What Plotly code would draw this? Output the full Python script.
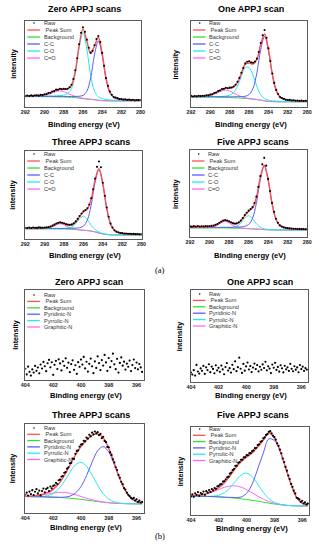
import numpy as np
import plotly.graph_objects as go

W, H = 319, 550

# ---------------- data ----------------
c_energy = np.round(np.linspace(292.0, 280.0, 31), 1)
c_raw_energy = np.round(np.linspace(292.0, 280.0, 61), 1)
n_energy = np.round(np.linspace(404.0, 395.6, 22), 1)
n_raw_energy = np.round(np.linspace(404.0, 395.6, 85), 1)
c_ticks = [292, 290, 288, 286, 284, 282, 280]
n_ticks = [404, 402, 400, 398, 396]

c_titles = ["Zero APPJ scans", "One APPJ scan", "Three APPJ scans", "Five APPJ scans"]
n_titles = ["Zero APPJ scan", "One APPJ scan", "Three APPJ scans", "Five APPJ scans"]
c_legend = ["Raw", " Peak Sum", "Background", "C-C", "C-O", "C=O"]
n_legend = ["Raw", " Peak Sum", "Background", "Pyridinic-N", "Pyrrolic-N", "Graphitic-N"]

# C1s, zero scans
zero_c_raw = [12.6, 13.4, 12.8, 13.5, 12.9, 13.7, 13.6, 13.2, 14.1, 13.8,
              14.8, 15.0, 16.3, 16.5, 18.1, 18.5, 20.2, 20.1, 21.3, 20.6,
              21.2, 20.9, 21.3, 22.9, 25.9, 32.6, 42.8, 56.6, 72.9, 86.3,
              92.7, 87.4, 78.3, 68.9, 63.2, 65.3, 71.8, 79.0, 82.6, 75.6,
              62.9, 47.9, 33.6, 24.6, 17.9, 14.3, 11.5, 11.0, 10.3, 9.2,
              9.3, 8.6, 8.9, 8.3, 8.6, 8.1, 8.4, 7.9, 8.2, 8.0, 8.2]
zero_c_sum = [12.9, 13.0, 13.1, 13.3, 13.6, 14.4, 15.9, 17.6, 19.7, 20.8, 20.8, 20.7, 25.2, 41.7, 71.4, 90.9,
              76.9, 62.1, 71.0, 81.1, 62.0, 33.9, 17.6, 11.7, 10.0, 9.1, 8.6, 8.4, 8.2, 8.1, 8.0]
zero_c_bg = [12.0, 12.0, 12.0, 12.0, 12.0, 12.0, 12.0, 11.9, 11.8, 11.7, 11.6, 11.4, 11.2, 10.9, 10.4, 9.8,
             9.2, 8.8, 8.4, 7.9, 7.4, 7.2, 7.1, 7.0, 7.0, 7.0, 7.0, 7.0, 7.0, 7.0, 7.0]
zero_c_cc = [12.4, 12.4, 12.4, 12.4, 12.4, 12.4, 12.4, 12.3, 12.3, 12.3, 12.3, 12.2, 12.2, 12.3, 12.5, 13.5,
             18.4, 33.9, 60.6, 76.9, 59.6, 32.3, 16.3, 10.7, 9.1, 8.4, 8.0, 7.8, 7.7, 7.6, 7.5]
zero_c_co = [12.4, 12.4, 12.4, 12.5, 12.5, 12.6, 12.8, 12.8, 13.0, 13.2, 13.9, 15.5, 21.5, 38.9, 68.6, 86.8,
             67.4, 36.8, 18.7, 12.0, 9.7, 8.7, 8.3, 7.9, 7.8, 7.6, 7.5, 7.5, 7.4, 7.4, 7.4]
zero_c_cdo = [12.1, 12.2, 12.3, 12.4, 12.7, 13.4, 14.7, 16.3, 18.0, 18.7, 17.8, 15.8, 13.9, 12.3, 11.1, 10.2,
              9.5, 9.0, 8.5, 8.0, 7.5, 7.3, 7.2, 7.1, 7.1, 7.1, 7.1, 7.1, 7.1, 7.1, 7.1]

# C1s, one scan
one_c_raw = [12.9, 12.2, 12.8, 12.4, 13.0, 12.6, 13.1, 12.9, 13.7, 13.5,
             14.6, 14.8, 16.2, 16.8, 18.5, 19.2, 20.8, 21.1, 22.4, 21.8,
             22.5, 22.6, 23.9, 25.8, 29.3, 33.9, 39.8, 45.3, 50.7, 52.6,
             53.2, 51.9, 51.5, 52.8, 56.2, 64.0, 74.3, 83.4, 89.5, 80.4,
             68.2, 53.4, 38.9, 28.0, 19.9, 15.2, 11.5, 10.5, 9.5, 8.5,
             8.2, 8.3, 7.6, 7.9, 7.3, 7.6, 7.1, 7.4, 6.9, 7.2, 7.1]
one_c_sum = [12.4, 12.5, 12.6, 12.8, 13.3, 14.2, 15.8, 18.1, 20.4, 21.9, 22.0, 23.3, 28.7, 39.0, 49.6, 51.2,
             49.9, 55.3, 72.9, 84.9, 66.9, 38.3, 19.5, 11.7, 9.2, 8.3, 7.8, 7.5, 7.2, 7.1, 7.0]
one_c_bg = [11.5, 11.5, 11.5, 11.5, 11.5, 11.5, 11.5, 11.4, 11.3, 11.2, 11.0, 10.8, 10.6, 10.3, 9.9, 9.5,
            9.1, 8.6, 7.9, 7.1, 6.5, 6.2, 6.1, 6.0, 6.0, 6.0, 6.0, 6.0, 6.0, 6.0, 6.0]
one_c_cc = [12.0, 12.0, 12.0, 12.0, 12.0, 12.0, 12.0, 11.9, 11.9, 11.9, 11.8, 11.9, 12.0, 12.0, 12.5, 14.5,
            21.6, 39.6, 66.7, 82.1, 65.3, 37.2, 18.6, 11.0, 8.6, 7.7, 7.4, 7.1, 6.8, 6.7, 6.6]
one_c_co = [11.8, 11.8, 11.8, 11.8, 11.9, 12.0, 12.1, 12.2, 12.3, 12.7, 13.7, 16.8, 24.1, 35.6, 46.1, 45.7,
            37.1, 24.1, 13.9, 9.8, 8.0, 7.2, 6.9, 6.6, 6.5, 6.4, 6.3, 6.3, 6.3, 6.3, 6.3]
one_c_cdo = [11.7, 11.7, 11.8, 12.0, 12.4, 13.2, 14.7, 16.8, 18.8, 19.7, 18.5, 16.2, 13.8, 12.0, 10.8, 10.0,
             9.4, 8.8, 8.1, 7.2, 6.6, 6.3, 6.2, 6.1, 6.1, 6.1, 6.1, 6.1, 6.1, 6.1, 6.1]

# C1s, three scans
three_c_raw = [12.8, 12.5, 13.0, 12.4, 13.1, 12.7, 12.6, 13.2, 12.9, 12.7,
               13.1, 13.3, 13.7, 14.2, 15.2, 16.3, 17.6, 18.5, 18.9, 18.4,
               17.9, 16.9, 16.4, 16.1, 16.6, 17.9, 20.0, 22.9, 26.2, 29.0,
               31.5, 33.0, 35.0, 39.2, 46.3, 56.4, 68.6, 82.0, 88.0, 81.5,
               63.9, 49.2, 35.8, 25.3, 17.5, 13.1, 10.0, 8.4, 7.6, 6.9,
               6.7, 6.2, 6.3, 5.9, 6.0, 5.6, 5.8, 5.5, 5.7, 5.3, 5.5]
three_c_sum = [12.2, 12.2, 12.2, 12.3, 12.3, 12.5, 13.2, 14.7, 17.1, 18.4, 17.4, 15.8, 16.0, 19.4, 25.5, 30.8,
               34.1, 45.4, 67.2, 80.0, 62.8, 35.2, 17.1, 9.7, 7.3, 6.4, 6.0, 5.7, 5.5, 5.4, 5.3]
three_c_bg = [11.5, 11.5, 11.5, 11.5, 11.5, 11.5, 11.5, 11.5, 11.5, 11.4, 11.3, 11.2, 11.0, 10.7, 10.3, 9.9,
              9.5, 9.0, 8.0, 6.8, 5.7, 5.0, 4.7, 4.6, 4.5, 4.5, 4.5, 4.5, 4.5, 4.5, 4.5]
three_c_cc = [12.0, 12.0, 12.0, 12.0, 12.0, 12.0, 12.0, 12.0, 12.1, 12.1, 12.1, 12.2, 12.3, 12.4, 12.8, 14.7,
              21.5, 38.7, 64.4, 78.8, 62.1, 34.7, 16.7, 9.4, 7.0, 6.2, 5.8, 5.5, 5.3, 5.2, 5.1]
three_c_co = [11.6, 11.6, 11.6, 11.6, 11.6, 11.6, 11.7, 11.7, 11.8, 11.8, 11.9, 12.3, 13.7, 17.3, 22.8, 25.9,
              22.0, 15.6, 10.7, 7.9, 6.3, 5.4, 5.0, 4.8, 4.7, 4.6, 4.6, 4.6, 4.6, 4.6, 4.6]
three_c_cdo = [11.6, 11.6, 11.6, 11.6, 11.7, 11.9, 12.5, 14.0, 16.2, 17.4, 16.0, 13.7, 12.0, 11.1, 10.5, 10.0,
               9.6, 9.1, 8.1, 6.9, 5.8, 5.1, 4.8, 4.7, 4.6, 4.6, 4.6, 4.6, 4.6, 4.6, 4.6]

# C1s, five scans
five_c_raw = [12.3, 11.9, 12.5, 12.1, 12.6, 12.0, 12.4, 12.2, 12.5, 12.3,
              12.6, 12.8, 13.3, 14.0, 15.0, 16.4, 17.8, 18.9, 19.5, 18.9,
              18.1, 16.9, 15.9, 15.6, 15.8, 17.0, 19.0, 21.8, 25.2, 27.9,
              30.3, 32.2, 34.3, 39.1, 46.4, 57.6, 70.0, 83.5, 91.0, 82.0,
              66.8, 52.9, 39.2, 28.9, 21.0, 16.3, 13.4, 12.1, 11.1, 10.6,
              10.2, 9.9, 9.8, 9.5, 9.4, 9.2, 9.3, 9.0, 9.1, 8.9, 9.1]
five_c_sum = [11.2, 11.2, 11.2, 11.3, 11.4, 11.6, 12.4, 14.3, 17.3, 18.9, 17.5, 15.3, 15.2, 18.3, 24.4, 29.6,
              33.4, 45.5, 68.6, 82.6, 66.0, 38.7, 20.6, 13.2, 10.9, 10.0, 9.5, 9.2, 9.0, 8.9, 8.8]
five_c_bg = [10.5, 10.5, 10.5, 10.5, 10.5, 10.5, 10.5, 10.5, 10.5, 10.4, 10.3, 10.2, 10.1, 9.9, 9.7, 9.5,
             9.3, 9.1, 8.8, 8.5, 8.2, 8.1, 8.0, 8.0, 8.0, 8.0, 8.0, 8.0, 8.0, 8.0, 8.0]
five_c_cc = [11.0, 11.0, 11.0, 11.0, 11.0, 11.0, 11.0, 11.0, 11.1, 11.1, 11.1, 11.2, 11.4, 11.6, 12.3, 14.4,
             21.5, 39.2, 66.0, 81.5, 65.4, 38.2, 20.2, 12.9, 10.6, 9.7, 9.3, 9.0, 8.8, 8.7, 8.6]
five_c_co = [10.6, 10.6, 10.6, 10.6, 10.6, 10.6, 10.7, 10.7, 10.8, 10.8, 10.8, 11.2, 12.6, 16.1, 21.5, 24.5,
             21.1, 15.3, 11.3, 9.5, 8.7, 8.5, 8.3, 8.2, 8.2, 8.1, 8.1, 8.1, 8.1, 8.1, 8.1]
five_c_cdo = [10.6, 10.6, 10.6, 10.7, 10.8, 11.0, 11.8, 13.6, 16.4, 17.9, 16.2, 13.3, 11.4, 10.4, 10.0, 9.7,
              9.4, 9.2, 8.9, 8.6, 8.3, 8.2, 8.1, 8.1, 8.1, 8.1, 8.1, 8.1, 8.1, 8.1, 8.1]

# N1s raw, zero and one scan
zero_n_raw = [12.5, 6.2, 14.8, 9.1, 4.9, 11.7, 8.3, 15.6, 10.2, 13.9,
              7.4, 17.2, 12.8, 20.1, 15.3, 9.8, 18.6, 22.4, 14.1, 19.7,
              5.8, 16.9, 21.3, 12.2, 23.0, 18.4, 10.6, 20.8, 15.7, 24.1,
              13.5, 19.2, 8.7, 17.6, 21.9, 11.3, 16.4, 6.9, 19.8, 14.6,
              22.7, 17.1, 25.6, 12.9, 20.3, 9.4, 18.0, 23.8, 15.2, 7.6,
              20.6, 13.4, 26.2, 18.8, 11.0, 22.1, 16.0, 27.9, 19.5, 10.1,
              24.4, 14.3, 21.0, 29.3, 17.4, 12.0, 23.5, 8.2, 19.0, 25.1,
              15.9, 20.4, 11.6, 18.1, 14.7, 21.6, 9.9, 16.6, 22.8, 13.2,
              19.4, 11.9, 17.8, 14.0, 9.0]
one_n_raw = [10.3, 8.1, 12.9, 7.0, 18.6, 11.4, 9.2, 14.8, 12.1, 17.5,
             8.8, 15.9, 13.0, 19.3, 10.7, 16.8, 14.2, 9.5, 18.1, 12.6,
             15.4, 11.1, 17.9, 13.7, 8.4, 16.3, 20.6, 12.4, 15.0, 10.2,
             18.7, 13.9, 22.5, 11.8, 16.1, 26.4, 14.4, 9.9, 19.6, 12.3,
             16.9, 21.2, 13.6, 17.3, 10.8, 15.7, 20.0, 14.1, 18.4, 11.5,
             16.6, 13.3, 19.1, 15.2, 22.0, 12.7, 17.0, 14.6, 9.7, 18.9,
             15.5, 20.8, 13.1, 16.4, 11.2, 18.2, 14.9, 10.4, 17.6, 13.8,
             16.0, 12.0, 19.8, 14.3, 11.7, 17.1, 13.4, 15.8, 10.6, 18.5,
             14.0, 16.7, 12.2, 15.1, 13.5]

# N1s, three scans
three_n_raw = [20.5, 22.8, 19.6, 24.1, 21.3, 25.6, 20.2, 23.9, 26.8, 22.0,
               25.1, 19.8, 24.6, 27.5, 23.3, 26.9, 28.2, 24.7, 29.8, 27.6,
               30.4, 31.2, 33.9, 32.5, 36.8, 37.4, 40.9, 41.6, 45.2, 46.0,
               49.8, 51.3, 55.9, 56.4, 61.2, 60.8, 66.5, 69.7, 70.4, 74.6,
               76.9, 77.3, 81.2, 80.4, 84.8, 83.6, 87.9, 86.2, 90.3, 88.4,
               91.6, 89.5, 90.8, 87.6, 88.9, 84.1, 85.7, 81.0, 79.6, 74.2,
               73.9, 68.1, 65.3, 60.2, 56.8, 51.4, 48.3, 42.7, 39.6, 35.0,
               32.4, 27.9, 26.3, 22.8, 20.5, 18.9, 17.1, 15.8, 16.9, 14.2,
               15.4, 12.6, 13.9, 11.8, 12.5]
three_n_sum = [18.7, 19.0, 19.6, 20.8, 22.8, 26.6, 32.9, 42.1, 53.4, 64.9, 74.7,
               82.0, 87.1, 88.8, 84.4, 72.8, 55.8, 38.6, 25.0, 16.7, 12.6, 11.0]
three_n_bg = [18.5, 18.4, 18.3, 18.2, 18.0, 17.8, 17.5, 17.1, 16.6, 16.0, 15.3,
              14.5, 13.7, 12.9, 12.1, 11.5, 11.0, 10.7, 10.5, 10.4, 10.3, 10.3]
three_n_pyridinic = [18.5, 18.4, 18.3, 18.2, 18.0, 17.8, 17.7, 17.8, 18.9, 22.3, 29.7,
                     41.9, 57.0, 69.9, 74.6, 68.5, 54.3, 38.1, 24.9, 16.7, 12.6, 11.0]
three_n_pyrrolic = [18.5, 18.4, 18.4, 18.7, 19.5, 22.0, 27.1, 35.4, 45.5, 54.0, 57.0,
                    52.5, 42.6, 31.2, 21.7, 15.7, 12.5, 11.2, 10.6, 10.4, 10.3, 10.3]
three_n_graphitic = [18.7, 19.0, 19.5, 20.3, 21.3, 22.4, 23.1, 23.1, 22.2, 20.6, 18.6,
                     16.6, 14.9, 13.5, 12.3, 11.6, 11.0, 10.7, 10.5, 10.4, 10.3, 10.3]

# N1s, five scans
five_n_raw = [21.0, 23.4, 20.6, 24.5, 22.9, 26.1, 21.8, 25.0, 23.7, 26.6,
              22.9, 27.1, 25.4, 28.3, 26.2, 29.4, 28.0, 30.6, 29.8, 32.5,
              33.1, 34.8, 35.2, 37.9, 38.4, 40.6, 42.9, 43.5, 47.0, 48.2,
              50.9, 52.4, 55.8, 56.1, 59.3, 60.2, 62.7, 62.9, 65.4, 65.8,
              68.0, 67.9, 70.3, 70.2, 72.5, 73.4, 75.9, 76.4, 79.5, 80.3,
              83.2, 84.1, 87.0, 88.2, 91.0, 91.9, 94.6, 95.3, 92.8, 90.1,
              88.6, 85.7, 81.4, 78.6, 74.3, 70.1, 64.2, 60.1, 54.6, 50.4,
              44.9, 40.8, 35.3, 32.0, 27.6, 24.5, 19.6, 18.9, 17.8, 15.0,
              16.2, 13.1, 14.4, 12.0, 12.9]
five_n_sum = [21.9, 22.3, 23.1, 24.6, 27.1, 30.9, 36.5, 44.3, 53.2, 60.5, 65.8,
              70.4, 77.3, 84.9, 93.4, 87.3, 73.6, 54.0, 35.0, 19.9, 13.5, 11.4]
five_n_bg = [21.5, 21.4, 21.3, 21.1, 20.9, 20.6, 20.2, 19.7, 19.1, 18.4, 17.6,
             16.7, 15.7, 14.6, 13.5, 12.5, 11.7, 11.0, 10.6, 10.4, 10.3, 10.2]
five_n_pyridinic = [21.5, 21.4, 21.3, 21.1, 20.9, 20.6, 20.2, 20.0, 19.9, 20.4, 24.6,
                    35.1, 52.3, 70.4, 86.5, 84.5, 72.7, 53.8, 35.0, 19.9, 13.5, 11.4]
five_n_pyrrolic = [21.5, 21.4, 21.3, 21.2, 21.4, 22.5, 25.3, 30.8, 38.4, 45.3, 47.6,
                   43.6, 35.0, 25.7, 18.6, 14.4, 12.2, 11.1, 10.6, 10.4, 10.3, 10.2]
five_n_graphitic = [21.9, 22.3, 23.1, 24.5, 26.6, 29.0, 31.4, 32.9, 33.1, 31.6, 28.8,
                    25.1, 21.4, 18.0, 15.3, 13.4, 12.1, 11.1, 10.6, 10.4, 10.3, 10.2]

# ---------------- style / layout ----------------
COL_RAW = "black"
COL_SUM = "#ff4f4f"
COL_BG = "#33dd33"
COL_C1 = "#5c5cff"
COL_C2 = "#22eaf0"
COL_C3 = "#ff66ff"
comp_colors = [COL_SUM, COL_BG, COL_C1, COL_C2, COL_C3]
FONT = "Liberation Sans"

panels = [
    dict(kind="C", title=c_titles[0], raw=zero_c_raw, sum=zero_c_sum, comps=[zero_c_bg, zero_c_cdo, zero_c_co, zero_c_cc],
         frame=(21, 21, 140, 107), tx=82.5, ty=8.5, xty=124, ylx=9, ly0=23, ldy=7, ylab="intensity"),
    dict(kind="C", title=c_titles[1], raw=one_c_raw, sum=one_c_sum, comps=[one_c_bg, one_c_cdo, one_c_co, one_c_cc],
         frame=(192, 21, 312, 107), tx=254, ty=8.5, xty=124, ylx=177, ly0=23, ldy=7, ylab="intensity"),
    dict(kind="C", title=c_titles[2], raw=three_c_raw, sum=three_c_sum, comps=[three_c_bg, three_c_cdo, three_c_co, three_c_cc],
         frame=(21, 151, 141, 239), tx=89, ty=142, xty=255, ylx=8, ly0=154, ldy=7, ylab="intensity"),
    dict(kind="C", title=c_titles[3], raw=five_c_raw, sum=five_c_sum, comps=[five_c_bg, five_c_cdo, five_c_co, five_c_cc],
         frame=(191, 150, 312, 237), tx=256, ty=142, xty=255, ylx=176, ly0=154, ldy=7, ylab="intensity"),
    dict(kind="N0", title=n_titles[0], raw=zero_n_raw,
         frame=(21, 290, 143, 380), tx=87, ty=282, xty=395, ylx=10, ly0=295, ldy=6.4, ylab="Intensity"),
    dict(kind="N0", title=n_titles[1], raw=one_n_raw,
         frame=(192, 290, 313, 382), tx=263, ty=282, xty=395, ylx=180, ly0=294, ldy=6.4, ylab="Intensity"),
    dict(kind="N", title=n_titles[2], raw=three_n_raw, sum=three_n_sum,
         comps=[three_n_bg, three_n_graphitic, three_n_pyrrolic, three_n_pyridinic],
         frame=(21, 424, 143, 513), tx=89, ty=415, xty=527, ylx=8, ly0=428, ldy=6.3, ylab="Intensity"),
    dict(kind="N", title=n_titles[3], raw=five_n_raw, sum=five_n_sum,
         comps=[five_n_bg, five_n_graphitic, five_n_pyrrolic, five_n_pyridinic],
         frame=(192, 427, 314, 515), tx=256, ty=415, xty=528, ylx=181, ly0=429, ldy=6.3, ylab="Intensity"),
]


def fx(px):
    return px / W


def fy(py):
    return 1 - py / H


fig = go.Figure()
shapes, annotations = [], []
layout = {}

for i, p in enumerate(panels):
    n = i + 1
    sfx = "" if n == 1 else str(n)
    xa, ya = "x" + sfx, "y" + sfx
    L, T, R, B = p["frame"]
    is_c = p["kind"] == "C"
    xrange = [292, 280] if is_c else [404, 395.5]
    ticks = c_ticks if is_c else n_ticks
    layout["xaxis" + sfx] = dict(
        domain=[fx(L), fx(R)], anchor=ya, range=xrange, tickvals=ticks,
        ticktext=[str(t) for t in ticks], ticks="", showgrid=False, zeroline=False,
        showline=True, mirror=True, linecolor="#5a5a5a", linewidth=1,
        ticklabeloverflow="allow",
        tickfont=dict(family=FONT, size=5.4, color="#222", weight="bold"),
    )
    layout["yaxis" + sfx] = dict(
        domain=[fy(B), fy(T)], anchor=xa, range=[0, 100], showticklabels=False,
        ticks="", showgrid=False, zeroline=False,
        showline=True, mirror=True, linecolor="#5a5a5a", linewidth=1,
    )

    if is_c:
        ex, exr = c_energy, c_raw_energy
    else:
        ex, exr = n_energy, n_raw_energy

    if p["kind"] != "N0":
        comp_cols = [COL_BG, COL_C3, COL_C2, COL_C1]
        for arr, col in zip(p["comps"], comp_cols):
            fig.add_trace(go.Scatter(x=ex, y=arr, mode="lines", line=dict(color=col, width=1, shape="spline"),
                                     xaxis=xa, yaxis=ya, hoverinfo="skip"))
        fig.add_trace(go.Scatter(x=ex, y=p["sum"], mode="lines", line=dict(color=COL_SUM, width=1.4, shape="spline"),
                                 xaxis=xa, yaxis=ya, hoverinfo="skip"))
    fig.add_trace(go.Scatter(x=exr, y=p["raw"], mode="markers",
                             marker=dict(color=COL_RAW, size=2.1 if is_c else 2.2),
                             xaxis=xa, yaxis=ya, hoverinfo="skip"))

    cx = (L + R) / 2
    annotations.append(dict(text="<b>%s</b>" % p["title"], x=fx(p["tx"]), y=fy(p["ty"]), xref="paper", yref="paper",
                            showarrow=False, xanchor="center", yanchor="middle",
                            font=dict(family=FONT, size=9, color="black")))
    annotations.append(dict(text="<b>Binding energy (eV)</b>", x=fx(cx + 1.5), y=fy(p["xty"]), xref="paper",
                            yref="paper", showarrow=False, xanchor="center", yanchor="middle",
                            font=dict(family=FONT, size=7.6, color="black")))
    annotations.append(dict(text="<b>%s</b>" % p["ylab"], x=fx(p["ylx"]), y=fy((T + B) / 2), xref="paper",
                            yref="paper", showarrow=False, textangle=-90, xanchor="center", yanchor="middle",
                            font=dict(family=FONT, size=7.2, color="black")))

    labels = c_legend if is_c else n_legend
    for k, lab in enumerate(labels):
        yy = p["ly0"] + k * p["ldy"]
        if k == 0:
            shapes.append(dict(type="circle", xref="paper", yref="paper",
                               x0=fx(L + 8.2), x1=fx(L + 9.8), y0=fy(yy + 0.8), y1=fy(yy - 0.8),
                               fillcolor="black", line=dict(width=0)))
        else:
            shapes.append(dict(type="line", xref="paper", yref="paper",
                               x0=fx(L + 2), x1=fx(L + 15), y0=fy(yy), y1=fy(yy),
                               line=dict(color=comp_colors[k - 1], width=1.3)))
        annotations.append(dict(text=lab.replace(" ", "&nbsp;"), x=fx(L + 17), y=fy(yy), xref="paper",
                                yref="paper", showarrow=False, xanchor="left", yanchor="middle",
                                font=dict(family=FONT, size=5.6, color="#333")))

annotations.append(dict(text="(a)", x=fx(160), y=fy(270), xref="paper", yref="paper", showarrow=False,
                        font=dict(family="Liberation Serif", size=8.5, color="black")))
annotations.append(dict(text="(b)", x=fx(160), y=fy(543), xref="paper", yref="paper", showarrow=False,
                        font=dict(family="Liberation Serif", size=8.5, color="black")))

fig.update_layout(**layout)
fig.update_layout(width=W, height=H, margin=dict(l=0, r=0, t=0, b=0), showlegend=False, hovermode=False,
                  paper_bgcolor="white", plot_bgcolor="white", shapes=shapes, annotations=annotations)
# remove the browser's default 8 px page margin so the figure sits at the window's top-left corner
fig.write_html("out.html", config={"displayModeBar": False},
               post_script="document.body.style.margin='0px';document.body.style.overflow='hidden';")
